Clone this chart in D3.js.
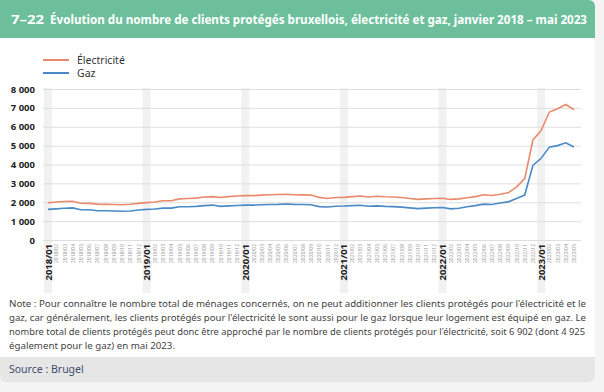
<!DOCTYPE html>
<html>
<head>
<meta charset="utf-8">
<script src="https://cdn.jsdelivr.net/npm/d3@7"></script>
<style>
  body { margin: 0; background: #f4f4f4; }
  svg { display: block; font-family: "Noto Sans", "Open Sans", sans-serif; }
</style>
</head>
<body>
<svg id="chart" width="604" height="392"></svg>
<script>
// months 2018/01 .. 2023/05
var months = [];
for (var yr = 2018; yr <= 2023; yr++) {
  for (var m = 1; m <= 12; m++) {
    if (yr == 2023 && m > 5) break;
    months.push(yr + '/' + (m < 10 ? '0' + m : m));
  }
}

// Électricité
var elec = [
  1970, 2010, 2040, 2050, 1950, 1940, 1900, 1890, 1880, 1870, 1890, 1940,   // 2018
  1980, 2010, 2080, 2080, 2180, 2200, 2220, 2280, 2300, 2250, 2300, 2330,   // 2019
  2350, 2350, 2380, 2400, 2410, 2420, 2400, 2390, 2380, 2260, 2200, 2250,   // 2020
  2260, 2300, 2330, 2280, 2320, 2290, 2280, 2250, 2200, 2150, 2180, 2200,   // 2021
  2210, 2150, 2180, 2240, 2300, 2400, 2360, 2420, 2500, 2800, 3250, 5300,   // 2022
  5800, 6780, 6950, 7180, 6902                                              // 2023
];

// Gaz
var gaz = [
  1620, 1650, 1680, 1700, 1600, 1600, 1550, 1550, 1540, 1520, 1540, 1590,   // 2018
  1620, 1640, 1690, 1690, 1760, 1760, 1780, 1820, 1850, 1780, 1810, 1830,   // 2019
  1850, 1850, 1870, 1880, 1890, 1910, 1890, 1880, 1870, 1770, 1750, 1790,   // 2020
  1800, 1820, 1840, 1790, 1810, 1780, 1770, 1740, 1700, 1660, 1690, 1710,   // 2021
  1720, 1650, 1680, 1760, 1820, 1900, 1880, 1960, 2020, 2200, 2380, 3950,   // 2022
  4330, 4920, 5000, 5150, 4925                                              // 2023
];

var yTicks = [0, 1000, 2000, 3000, 4000, 5000, 6000, 7000, 8000];

var seriesNames = ['Électricité', 'Gaz'];
var seriesColors = ['#ea8a6c', '#4a8ac6'];

var noteLines = [
  "Note : Pour connaître le nombre total de ménages concernés, on ne peut additionner les clients protégés pour l'électricité et le",
  "gaz, car généralement, les clients protégés pour l'électricité le sont aussi pour le gaz lorsque leur logement est équipé en gaz. Le",
  "nombre total de clients protégés peut donc être approché par le nombre de clients protégés pour l'électricité, soit 6 902 (dont 4 925",
  "également pour le gaz) en mai 2023."
];
var noteWidths = [577, 577, 576, 166];

var svg = d3.select('#chart');

// card
svg.append('rect').attr('x', 0).attr('y', 0).attr('width', 595).attr('height', 382)
  .attr('rx', 6).attr('fill', '#fff');
// header bar
svg.append('path')
  .attr('d', 'M0,0 H589 A6,6 0 0 1 595,6 V38 H0 Z')
  .attr('fill', '#6dbf9c');
svg.append('text').attr('x', 11).attr('y', 24)
  .attr('fill', '#fff').attr('font-weight', 'bold').attr('font-size', 12)
  .attr('textLength', 33).attr('lengthAdjust', 'spacingAndGlyphs')
  .text('7–22');
svg.append('text').attr('x', 50).attr('y', 24)
  .attr('fill', '#fff').attr('font-weight', 'bold').attr('font-size', 12)
  .attr('textLength', 537).attr('lengthAdjust', 'spacingAndGlyphs')
  .text('Évolution du nombre de clients protégés bruxellois, électricité et gaz, janvier 2018 – mai 2023');

// source bar
svg.append('path')
  .attr('d', 'M0,357 H595 V376 A6,6 0 0 1 589,382 H6 A6,6 0 0 1 0,376 Z')
  .attr('fill', '#e6e6e6');
svg.append('text').attr('x', 9).attr('y', 373)
  .attr('fill', '#3d4c6b').attr('font-size', 10.5)
  .text('Source : Brugel');

// note
svg.append('g').selectAll('text').data(noteLines).enter().append('text')
  .attr('x', 9).attr('y', function(d, i) { return 307 + i * 14; })
  .attr('fill', '#444').attr('font-size', 9.4)
  .attr('textLength', function(d, i) { return noteWidths[i]; })
  .attr('lengthAdjust', 'spacingAndGlyphs')
  .text(function(d) { return d; });

// scales
var x = d3.scalePoint().domain(months).range([48, 574]);
var y = d3.scaleLinear().domain([0, 8000]).range([240, 89]);

// year bands
var yearMonths = months.filter(function(d) { return d.slice(5) == '01'; });
svg.append('g').selectAll('rect').data(yearMonths).enter().append('rect')
  .attr('x', function(d) { return x(d) - 4; })
  .attr('y', 88).attr('width', 8).attr('height', 205)
  .attr('fill', '#f1f1f1');

// gridlines + y axis
var fmt = function(v) { return d3.format(',')(v).replace(',', ' '); };
var yAxis = svg.append('g').attr('transform', 'translate(43,0)')
  .call(d3.axisLeft(y).tickValues(yTicks).tickSize(-538).tickFormat(fmt));
yAxis.select('.domain').remove();
yAxis.selectAll('.tick line').attr('stroke', '#dedede');
yAxis.selectAll('.tick text').attr('x', -8).attr('fill', '#222')
  .attr('font-size', 9.5).attr('font-weight', 'bold')
  .attr('font-family', '"Noto Sans", sans-serif');

// x axis labels
var xAxis = svg.append('g').attr('transform', 'translate(0,242)')
  .call(d3.axisBottom(x).tickSize(0));
xAxis.select('.domain').remove();
xAxis.selectAll('.tick text')
  .attr('transform', 'rotate(-90)')
  .attr('x', -2).attr('y', 0).attr('dy', '0.32em')
  .style('text-anchor', 'end')
  .attr('font-family', '"Noto Sans", sans-serif')
  .attr('font-size', function(d) { return d.slice(5) == '01' ? 9.5 : 5; })
  .attr('font-weight', function(d) { return d.slice(5) == '01' ? 'bold' : 'normal'; })
  .attr('fill', function(d) { return d.slice(5) == '01' ? '#222' : '#999'; });

// lines
var line = d3.line()
  .x(function(d, i) { return x(months[i]); })
  .y(function(d) { return y(d); });

[elec, gaz].forEach(function(s, i) {
  svg.append('path').datum(s)
    .attr('d', line)
    .attr('fill', 'none')
    .attr('stroke', seriesColors[i])
    .attr('stroke-width', 1.6);
});

// legend
var legend = svg.append('g').selectAll('g').data(seriesNames).enter().append('g')
  .attr('transform', function(d, i) { return 'translate(43,' + (60 + i * 13) + ')'; });
legend.append('line').attr('x1', 0).attr('x2', 26)
  .attr('stroke', function(d, i) { return seriesColors[i]; }).attr('stroke-width', 2);
legend.append('text').attr('x', 34).attr('dy', '0.35em')
  .attr('font-size', 10.5).attr('fill', '#333')
  .text(function(d) { return d; });
</script>
</body>
</html>
